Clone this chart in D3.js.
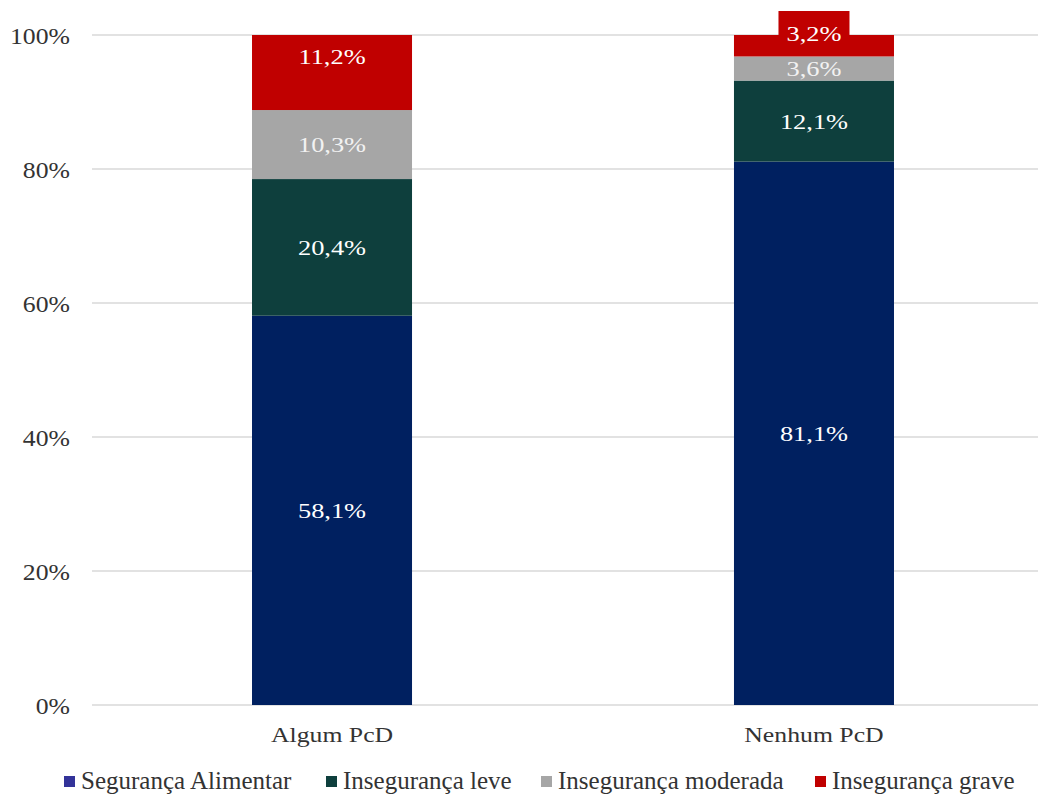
<!DOCTYPE html>
<html>
<head>
<meta charset="utf-8">
<script src="https://cdn.jsdelivr.net/npm/d3@7"></script>
<style>
  html, body { margin: 0; padding: 0; background: #fff; }
  svg { display: block; }
  svg text { font-family: "Liberation Serif", "Times New Roman", "DejaVu Serif", serif; }
</style>
</head>
<body>
<svg id="chart" width="1039" height="796"></svg>
<script>
// Food security distribution by household disability status (percent)
const categories = ["Algum PcD", "Nenhum PcD"];
const seriesNames = ["Segurança Alimentar", "Insegurança leve", "Insegurança moderada", "Insegurança grave"];
const seguranca = [58.1, 81.1];
const insegLeve = [20.4, 12.1];
const insegModerada = [10.3, 3.6];
const insegGrave = [11.2, 3.2];
const yTicks = [0, 20, 40, 60, 80, 100];

const barColors = ["#002060", "#0e3f3d", "#a6a6a6", "#c00000"];
const legendColors = ["#333399", "#0e3f3d", "#a6a6a6", "#c00000"];
const SERIF = '"Liberation Serif", "Times New Roman", serif';

const svg = d3.select("#chart");
const W = 1039, H = 796;
const plot = { left: 92, right: 1038, top: 35, bottom: 705 };

const x = d3.scaleBand().domain(categories).range([plot.left, 1054])
  .paddingInner(0.668).paddingOuter(0.332);
const y = d3.scaleLinear().domain([0, 100]).range([plot.bottom, plot.top]);

// Gridlines
svg.append("g").selectAll("line").data(yTicks).join("line")
  .attr("x1", plot.left).attr("x2", plot.right)
  .attr("y1", d => y(d)).attr("y2", d => y(d))
  .attr("stroke", "#d9d9d9").attr("stroke-width", 1.3);

// Y axis labels (slightly widened serif glyphs)
const yAxis = d3.axisLeft(y).tickValues(yTicks).tickFormat(d => d + "%").tickSize(0).tickPadding(0);
const ya = svg.append("g").attr("transform", `translate(70,0)`).call(yAxis);
ya.attr("font-family", SERIF);
ya.select(".domain").remove();
ya.selectAll(".tick text")
  .attr("x", 0).attr("dy", "0.35em")
  .attr("font-size", 23).attr("fill", "#333333")
  .style("font-family", SERIF)
  .attr("transform", "scale(1.12,1)");

// X axis labels
const xAxis = d3.axisBottom(x).tickSize(0).tickPadding(0);
const xa = svg.append("g").attr("transform", `translate(0,${y(0)})`).call(xAxis);
xa.attr("font-family", SERIF);
xa.select(".domain").remove();
xa.selectAll(".tick text")
  .attr("y", 0).attr("dy", 0)
  .attr("font-size", 22).attr("fill", "#333333")
  .style("font-family", SERIF)
  .attr("transform", "translate(0,37) scale(1.17,1)");

// Stack data
const rows = categories.map((c, i) => ({
  cat: c,
  [seriesNames[0]]: seguranca[i],
  [seriesNames[1]]: insegLeve[i],
  [seriesNames[2]]: insegModerada[i],
  [seriesNames[3]]: insegGrave[i]
}));
const stacked = d3.stack().keys(seriesNames)(rows);

const fmt = v => v.toFixed(1).replace(".", ",") + "%";

stacked.forEach((layer, li) => {
  svg.append("g").selectAll("rect").data(layer).join("rect")
    .attr("x", d => x(d.data.cat))
    .attr("width", x.bandwidth())
    .attr("y", d => y(d[1]))
    .attr("height", d => y(d[0]) - y(d[1]))
    .attr("fill", barColors[li]);
});

// Data labels
const labels = svg.append("g");
stacked.forEach((layer, li) => {
  layer.forEach(d => {
    const v = d[1] - d[0];
    const cx = x(d.data.cat) + x.bandwidth() / 2;
    let cy = (y(d[0]) + y(d[1])) / 2;
    const segH = y(d[0]) - y(d[1]);
    const isTop = li === seriesNames.length - 1;
    if (isTop && segH < 30) {
      // label taller than its segment: lift it above the bar top with a filled box
      cy = y(d[1]) - 2;
      const bw = 71, bh = 34;
      labels.append("rect")
        .attr("x", cx - bw / 2).attr("y", cy - bh / 2 - 5)
        .attr("width", bw).attr("height", bh)
        .attr("fill", barColors[li]);
    } else if (isTop) {
      cy = y(d[1]) + 21;
    }
    labels.append("text")
      .attr("transform", `translate(${cx},${cy}) scale(1.2,1)`)
      .attr("dy", "0.35em")
      .attr("text-anchor", "middle")
      .attr("font-size", 22)
      .attr("fill", li === 2 ? "#f2f2f2" : "#ffffff")
      .style("font-family", SERIF)
      .text(fmt(v));
  });
});

// Legend
const legendX = [64, 326, 541, 815];
const legend = svg.append("g");
seriesNames.forEach((name, i) => {
  legend.append("rect")
    .attr("x", legendX[i]).attr("y", 776)
    .attr("width", 11).attr("height", 11)
    .attr("fill", legendColors[i]);
  legend.append("text")
    .attr("x", legendX[i] + 17).attr("y", 789)
    .attr("font-size", 25)
    .attr("fill", "#333333")
    .style("font-family", SERIF)
    .text(name);
});
</script>
</body>
</html>
